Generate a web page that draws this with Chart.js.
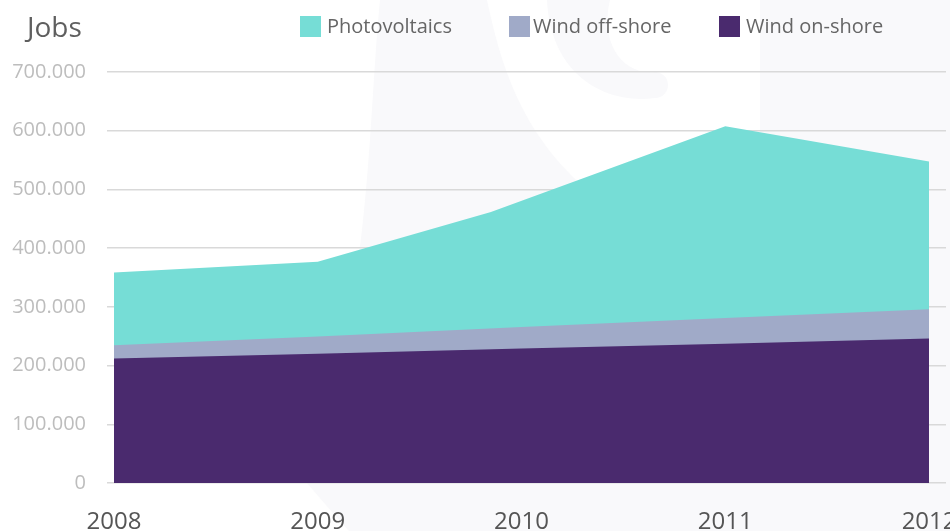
<!DOCTYPE html>
<html>
<head>
<meta charset="utf-8">
<script src="https://cdn.jsdelivr.net/npm/chart.js@4"></script>
<style>
  html, body { margin: 0; padding: 0; background: #ffffff; overflow: hidden; width: 950px; height: 531px; }
  #wrap { position: absolute; left: 0; top: 0; width: 960px; height: 540px; }
</style>
</head>
<body>
<div id="wrap"><canvas id="c" width="960" height="540"></canvas></div>
<script>
// ---- data ----
const years = [2008, 2009, 2010, 2011, 2012];
const pvYears = [2008, 2009, 2009.85, 2011, 2012];          // x positions of the PV series points
const windOnshore = [212000, 220000, 229000, 237000, 246000];
const windOffshore = [22500, 29500, 36500, 44000, 50000];
const photovoltaics = [124000, 127500, 196000, 326500, 251500];
const seriesNames = ['Photovoltaics', 'Wind off-shore', 'Wind on-shore'];
const seriesColors = ['#76ddd6', '#a0aac8', '#4a2a6e'];
const yTickValues = [0, 100000, 200000, 300000, 400000, 500000, 600000, 700000];
const yTitle = 'Jobs';

// stacked tops
const onTop = windOnshore.map(v => v);
const offTop = windOnshore.map((v, i) => v + windOffshore[i]);
const pvTop = offTop.map((v, i) => v + photovoltaics[i]);

const fmt = v => v === 0 ? '0' : String(v).replace(/\B(?=(\d{3})+(?!\d))/g, '.');
const FONT = "'Open Sans', 'DejaVu Sans', sans-serif";

const watermark = {
  id: 'watermark',
  beforeDraw(chart) {
    const ctx = chart.ctx;
    ctx.save();
    ctx.fillStyle = '#ffffff';
    ctx.fillRect(0, 0, chart.width, chart.height);
    ctx.fillStyle = '#f9f9fb';
    ctx.beginPath();
    ctx.moveTo(380, 0);
    ctx.bezierCurveTo(368, 120, 372, 300, 307, 483);
    ctx.quadraticCurveTo(330, 510, 357, 540);
    ctx.lineTo(960, 540);
    ctx.lineTo(960, 0);
    ctx.closePath();
    ctx.fill();
    ctx.fillStyle = '#ffffff';
    ctx.beginPath();
    ctx.moveTo(487, 0);
    ctx.bezierCurveTo(500, 60, 520, 140, 600, 200);
    ctx.bezierCurveTo(700, 260, 760, 200, 760, 140);
    ctx.lineTo(760, 0);
    ctx.closePath();
    ctx.fill();
    ctx.fillStyle = '#f9f9fb';
    ctx.beginPath();
    ctx.moveTo(547, 0);
    ctx.bezierCurveTo(550, 70, 600, 105, 655, 98);
    ctx.arc(655, 85, 13, Math.PI / 2, -Math.PI / 2, true);
    ctx.bezierCurveTo(620, 75, 600, 40, 610, 0);
    ctx.closePath();
    ctx.fill();
    ctx.restore();
  }
};

const legendAndTitle = {
  id: 'legendAndTitle',
  afterDraw(chart) {
    const ctx = chart.ctx;
    ctx.save();
    ctx.fillStyle = '#5f5f5f';
    ctx.font = '28px ' + FONT;
    ctx.textBaseline = 'alphabetic';
    ctx.textAlign = 'left';
    ctx.fillText(yTitle, 27, 37);
    const starts = [300, 509, 719];
    ctx.font = '20px ' + FONT;
    seriesNames.forEach((name, i) => {
      ctx.fillStyle = seriesColors[i];
      ctx.fillRect(starts[i], 16, 21, 21);
      ctx.fillStyle = '#666666';
      ctx.fillText(name, starts[i] + (i === 1 ? 24 : 27), 33);
    });
    ctx.restore();
  }
};

const toPts = (xs, ys) => xs.map((x, i) => ({ x: x, y: ys[i] }));

new Chart(document.getElementById('c'), {
  type: 'line',
  data: {
    datasets: [
      { label: seriesNames[2], data: toPts(years, onTop), backgroundColor: seriesColors[2], borderColor: seriesColors[2], borderWidth: 0, fill: 'origin', pointRadius: 0, tension: 0 },
      { label: seriesNames[1], data: toPts(years, offTop), backgroundColor: seriesColors[1], borderColor: seriesColors[1], borderWidth: 0, fill: 'origin', pointRadius: 0, tension: 0 },
      { label: seriesNames[0], data: toPts(pvYears, pvTop), backgroundColor: seriesColors[0], borderColor: seriesColors[0], borderWidth: 0, fill: 'origin', pointRadius: 0, tension: 0 }
    ]
  },
  options: {
    responsive: false,
    animation: false,
    devicePixelRatio: 1,
    layout: { autoPadding: false, padding: { top: 72, right: 14, bottom: 4, left: 0 } },
    plugins: { legend: { display: false }, tooltip: { enabled: false }, title: { display: false } },
    scales: {
      x: {
        type: 'linear',
        min: 2007.966,
        max: 2012.083,
        afterBuildTicks: s => { s.ticks = years.map(v => ({ value: v })); },
        afterFit: s => { s.height = 53; s.paddingLeft = 0; s.paddingRight = 0; },
        grid: { display: false, drawTicks: false },
        border: { display: false },
        ticks: { padding: 25, color: '#555555', font: { family: FONT, size: 24 }, callback: v => String(v), maxRotation: 0, autoSkip: false }
      },
      y: {
        min: 0,
        max: 700000,
        afterBuildTicks: s => { s.ticks = yTickValues.map(v => ({ value: v })); },
        afterFit: s => { s.width = 107; s.paddingTop = 0; s.paddingBottom = 0; },
        grid: { color: '#d9d9d9', lineWidth: 1.5, drawTicks: false },
        border: { display: false },
        ticks: { padding: 21, color: '#bdbdbd', font: { family: FONT, size: 20 }, callback: v => fmt(v) }
      }
    }
  },
  plugins: [watermark, legendAndTitle]
});
</script>
</body>
</html>
